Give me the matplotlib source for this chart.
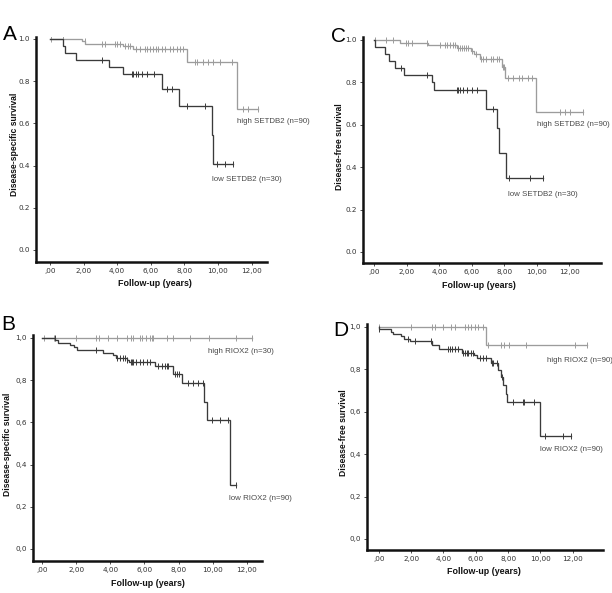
import numpy as np
import matplotlib
matplotlib.use("Agg")
import matplotlib.pyplot as plt

W, H = 612, 593

# ---------------- data ----------------
x_ticks = [0, 2, 4, 6, 8, 10, 12]
x_tick_labels = [",00", "2,00", "4,00", "6,00", "8,00", "10,00", "12,00"]
y_ticks = [0.0, 0.2, 0.4, 0.6, 0.8, 1.0]
y_labels_dot = ["0.0", "0.2", "0.4", "0.6", "0.8", "1.0"]
y_labels_comma = ["0,0", "0,2", "0,4", "0,6", "0,8", "1,0"]

A_high_t = [1.89, 2.10, 4.33, 4.96, 8.17, 11.15]
A_high_s = [0.988, 0.977, 0.966, 0.951, 0.891, 0.667]
A_high_end = 12.36
A_high_c = [0.04, 0.75, 2.08, 3.08, 3.27, 3.87, 4.01, 4.17, 4.46, 4.66, 4.76, 5.12, 5.36,
            5.65, 5.79, 5.95, 6.11, 6.31, 6.45, 6.65, 6.85, 7.14, 7.34, 7.54, 7.74, 7.94,
            8.63, 8.73, 9.13, 9.42, 9.72, 10.12, 10.81, 11.51, 11.81, 12.36]
A_low_t = [0.79, 0.90, 1.55, 3.51, 4.37, 6.69, 7.70, 9.62, 9.68]
A_low_s = [0.967, 0.933, 0.900, 0.867, 0.833, 0.762, 0.681, 0.543, 0.408]
A_low_end = 10.91
A_low_c = [3.08, 4.86, 4.96, 5.12, 5.26, 5.46, 5.75, 6.19, 6.94, 7.24, 8.13, 9.23,
           9.92, 10.42, 10.91]

C_high_t = [1.58, 3.32, 5.07, 5.95, 6.13, 6.50, 7.84, 8.05, 9.93]
C_high_s = [0.987, 0.976, 0.961, 0.948, 0.934, 0.912, 0.874, 0.819, 0.662]
C_high_end = 12.82
C_high_c = [0.04, 0.72, 1.17, 1.95, 2.09, 2.30, 3.22, 4.04, 4.35, 4.49, 4.66, 4.82, 4.97,
            5.17, 5.27, 5.38, 5.52, 5.64, 5.79, 5.99, 6.26, 6.55, 6.71, 6.87, 7.16, 7.33,
            7.53, 7.69, 7.90, 7.98, 8.25, 8.56, 8.93, 9.07, 9.48, 9.68, 11.43, 11.74,
            12.04, 12.82]
C_low_t = [0.02, 0.66, 0.92, 1.27, 1.83, 3.55, 3.70, 6.87, 7.55, 7.65, 8.10]
C_low_s = [0.967, 0.933, 0.900, 0.867, 0.833, 0.800, 0.762, 0.675, 0.583, 0.466, 0.350]
C_low_end = 10.36
C_low_c = [1.62, 3.25, 5.07, 5.17, 5.27, 5.48, 5.68, 5.99, 6.30, 7.28, 8.31, 9.58, 10.36]

B_high_t = []
B_high_s = []
B_high_end = 12.3
B_high_c = [0.1, 0.7, 1.95, 3.15, 3.35, 3.88, 4.4, 5.0, 5.2, 5.35, 5.74, 5.85, 6.1, 6.3,
            6.42, 6.52, 7.3, 7.7, 8.67, 9.8, 11.4, 12.3]
B_low_t = [0.74, 0.90, 1.63, 1.86, 2.02, 3.55, 4.15, 4.35, 4.95, 5.10, 6.62, 7.70, 8.19,
           9.52, 9.65, 11.05]
B_low_s = [0.989, 0.978, 0.967, 0.956, 0.943, 0.929, 0.920, 0.906, 0.896, 0.887, 0.867,
           0.830, 0.785, 0.698, 0.610, 0.303]
B_low_end = 11.37
B_low_c = [0.72, 3.13, 4.41, 4.56, 4.76, 4.85, 5.0, 5.2, 5.25, 5.35, 5.5, 5.74, 5.93, 6.13,
           6.32, 6.81, 7.01, 7.2, 7.3, 7.4, 7.79, 7.89, 8.05, 8.57, 8.87, 9.16, 9.46, 9.95,
           10.43, 10.92, 11.37]

D_high_t = [6.63]
D_high_s = [0.916]
D_high_end = 12.87
D_high_c = [0.02, 2.0, 3.28, 3.48, 3.99, 4.47, 4.72, 5.34, 5.54, 5.71, 5.95, 6.16, 6.47,
            6.78, 7.56, 7.77, 8.06, 9.09, 12.14, 12.87]
D_low_t = [0.02, 0.76, 0.90, 1.37, 1.58, 1.93, 3.30, 3.70, 5.13, 5.90, 6.05, 6.94, 7.40,
           7.55, 7.70, 7.90, 7.95, 9.98]
D_low_s = [0.989, 0.978, 0.967, 0.956, 0.944, 0.932, 0.915, 0.894, 0.879, 0.866, 0.855,
           0.829, 0.797, 0.766, 0.726, 0.686, 0.645, 0.484]
D_low_end = 11.89
D_low_c = [0.02, 1.79, 2.25, 3.23, 4.31, 4.41, 4.55, 4.72, 4.88, 5.23, 5.34, 5.44, 5.54,
           5.71, 5.85, 6.26, 6.47, 6.61, 6.99, 7.09, 7.29, 7.62, 8.29, 8.9, 9.0, 9.62,
           10.28, 11.42, 11.89]

HIGH_COL = "#9c9c9c"
LOW_COL = "#3a3a3a"
TXT_COL = "#4a4a4a"
LAB_FAM = ["Liberation Sans", "DejaVu Sans"]
LAB_SIZE = 5.7

fig = plt.figure(figsize=(W / 100, H / 100), dpi=100)
fig.patch.set_facecolor("white")


def px_axes(left, top, right, bottom):
    return fig.add_axes([left / W, 1 - bottom / H, (right - left) / W, (bottom - top) / H])


def km(ax, t, s, end, cens, color):
    xs = [0.0] + list(t) + [end]
    ys = [1.0] + list(s) + [s[-1] if len(s) else 1.0]
    ax.step(xs, ys, where="post", color=color, lw=0.95, solid_joinstyle="miter")
    tt = np.array([0.0] + list(t))
    ss = np.array([1.0] + list(s))
    cy = [ss[np.searchsorted(tt, c, side="right") - 1] for c in cens]
    ax.plot(cens, cy, ls="none", marker="|", ms=4.5, mew=0.7, color=color)


def style(ax, xlim, ylim, ylabels):
    ax.set_xlim(*xlim)
    ax.set_ylim(*ylim)
    for sp in ("top", "right"):
        ax.spines[sp].set_visible(False)
    for sp in ("left", "bottom"):
        ax.spines[sp].set_linewidth(1.8)
        ax.spines[sp].set_color("#111111")
    ax.set_xticks(x_ticks)
    ax.set_xticklabels(x_tick_labels)
    ax.set_yticks(y_ticks)
    ax.set_yticklabels(ylabels)
    ax.tick_params(axis="both", labelsize=5.2, colors="#333333", length=2.5, width=0.6, pad=2)
    ax.patch.set_alpha(0)


def ftext(x, y, s, **kw):
    fig.text(x / W, 1 - y / H, s, **kw)


panels = [
    ("A", (36, 37, 267, 262), (-0.833, 12.92), (-0.057, 1.009), y_labels_dot,
     [(A_high_t, A_high_s, A_high_end, A_high_c, HIGH_COL),
      (A_low_t, A_low_s, A_low_end, A_low_c, LOW_COL)],
     [(11.13, 0.611, "high SETDB2 (n=90)"), (9.64, 0.332, "low SETDB2 (n=30)")]),
    ("C", (363, 37, 601, 263), (-0.695, 13.95), (-0.052, 1.014), y_labels_dot,
     [(C_high_t, C_high_s, C_high_end, C_high_c, HIGH_COL),
      (C_low_t, C_low_s, C_low_end, C_low_c, LOW_COL)],
     [(10.01, 0.599, "high SETDB2 (n=90)"), (8.21, 0.269, "low SETDB2 (n=30)")]),
    ("B", (33, 335, 262, 561), (-0.546, 12.9), (-0.057, 1.014), y_labels_comma,
     [(B_high_t, B_high_s, B_high_end, B_high_c, HIGH_COL),
      (B_low_t, B_low_s, B_low_end, B_low_c, LOW_COL)],
     [(9.75, 0.938, "high RIOX2 (n=30)"), (10.96, 0.24, "low RIOX2 (n=90)")]),
    ("D", (367, 324, 603, 550), (-0.724, 13.87), (-0.052, 1.014), y_labels_comma,
     [(D_high_t, D_high_s, D_high_end, D_high_c, HIGH_COL),
      (D_low_t, D_low_s, D_low_end, D_low_c, LOW_COL)],
     [(10.42, 0.844, "high RIOX2 (n=90)"), (10.0, 0.42, "low RIOX2 (n=90)")]),
]

for name, box, xlim, ylim, ylabels, curves, labels in panels:
    ax = px_axes(*box)
    style(ax, xlim, ylim, ylabels)
    for t, s, end, c, col in curves:
        km(ax, t, s, end, c, col)
    for x, y, s in labels:
        ax.text(x, y, s, fontsize=LAB_SIZE, color=TXT_COL, va="center", ha="left",
                family=LAB_FAM, clip_on=False)

ftext(10, 35, "A", fontsize=15, ha="center", va="center", family="Liberation Sans")
ftext(338, 36, "C", fontsize=15, ha="center", va="center", family="Liberation Sans")
ftext(8, 325, "B", fontsize=15, ha="center", va="center", family="Liberation Sans")
ftext(341, 330, "D", fontsize=15, ha="center", va="center", family="Liberation Sans")

yl_kw = dict(fontsize=6.2, fontweight="bold", rotation=90, ha="center", va="center",
             family="Liberation Sans", color="#111111")
ftext(15, 144, "Disease-specific survival", **yl_kw)
ftext(8, 444, "Disease-specific survival", **yl_kw)
ftext(339, 147, "Disease-free survival", **yl_kw)
ftext(344, 433, "Disease-free survival", **yl_kw)

xl_kw = dict(fontsize=6.4, fontweight="bold", ha="center", va="center",
             family="Liberation Sans", color="#111111")
ftext(155, 283, "Follow-up (years)", **xl_kw)
ftext(479, 286, "Follow-up (years)", **xl_kw)
ftext(148, 584, "Follow-up (years)", **xl_kw)
ftext(484, 572, "Follow-up (years)", **xl_kw)

fig.savefig("out.png", dpi=100, facecolor="white")
